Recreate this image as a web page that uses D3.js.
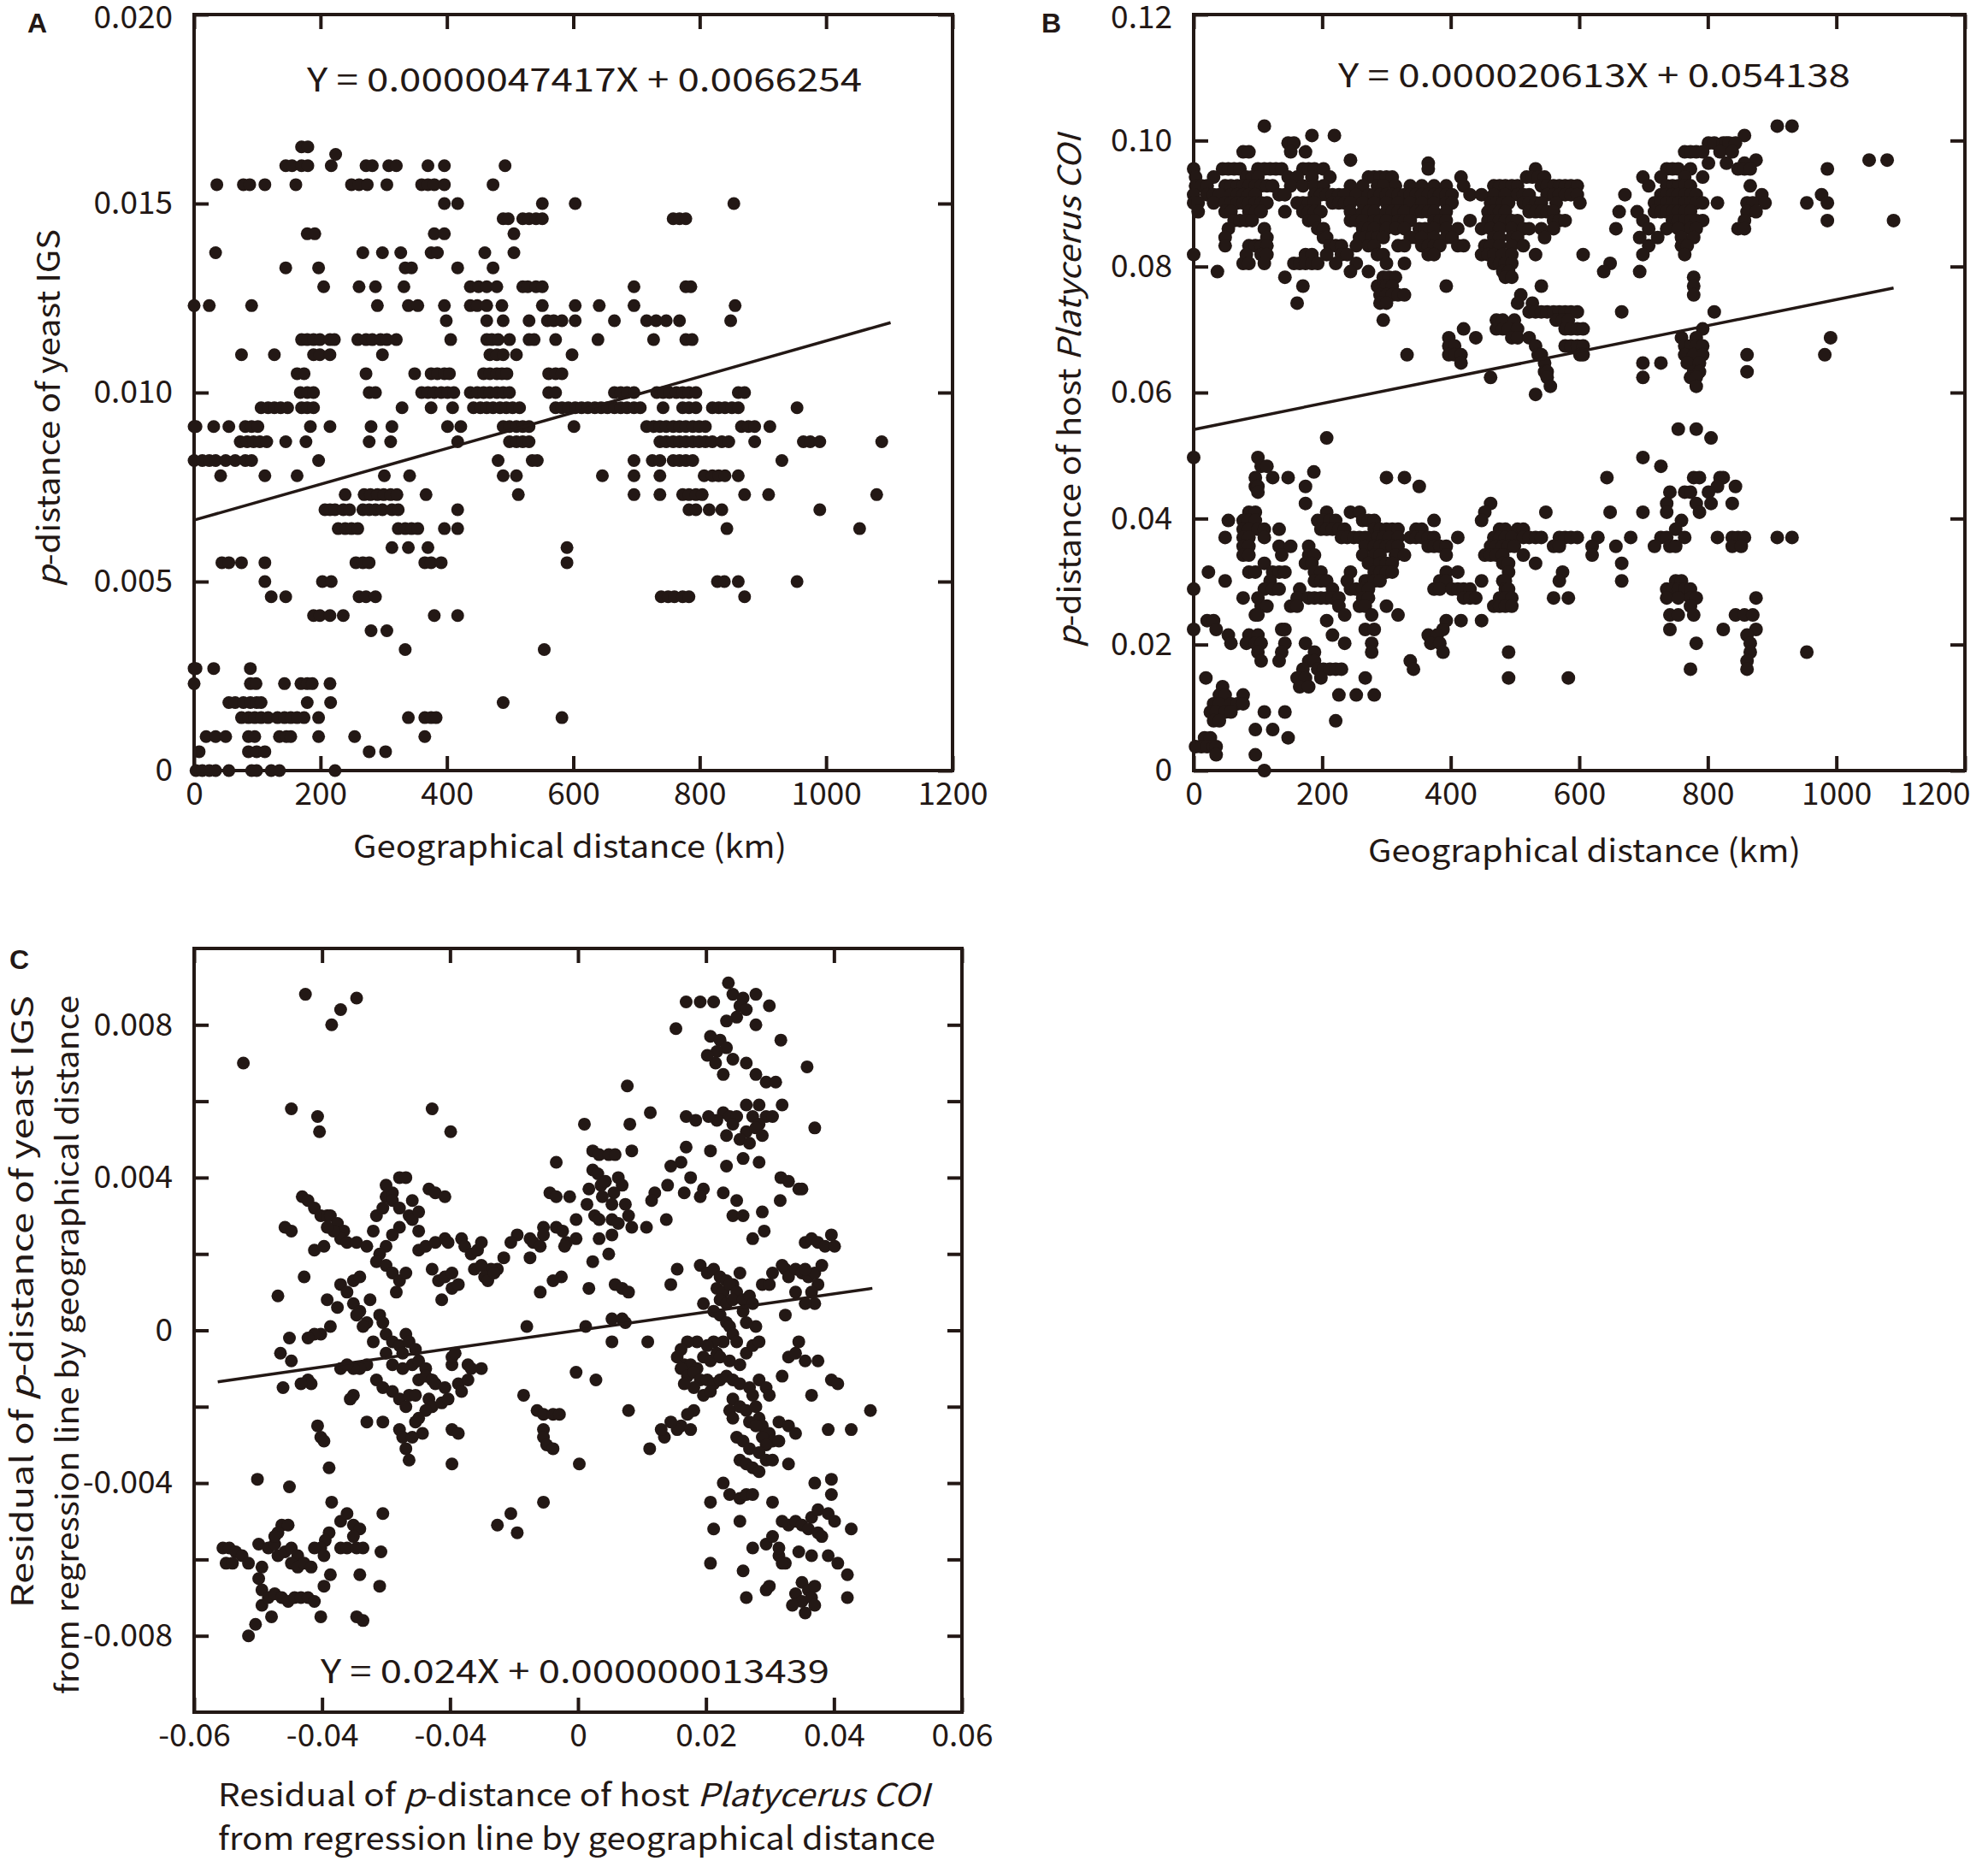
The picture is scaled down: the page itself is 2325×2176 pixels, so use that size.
<!DOCTYPE html>
<html>
<head>
<meta charset="utf-8">
<script src="https://cdn.jsdelivr.net/npm/d3@7"></script>
<style>
  body { margin: 0; background: #fff; }
</style>
</head>
<body>
<div class="chart"></div>
<script>
var width = 2325;
var height = 2176;
var ink = "#231815";
var font = "'Noto Sans CJK JP', 'Noto Sans', sans-serif";

// A: p-distance of yeast IGS vs geographical distance, rows of [p-distance, [km...]]
var yeastRows = [
  [0.0165, [170, 180]],
  [0.0163, [224]],
  [0.0160, [145, 155, 170, 180, 217, 272, 282, 308, 320, 370, 396, 492]],
  [0.0155, [36, 78, 88, 112, 161, 249, 261, 274, 305, 360, 370, 380, 396, 473]],
  [0.0150, [396, 417, 551, 603, 854]],
  [0.0146, [489, 497, 520, 530, 541, 551, 758, 768, 778]],
  [0.0142, [179, 191, 380, 396, 506]],
  [0.0137, [34, 267, 298, 327, 375, 385, 460, 506]],
  [0.0133, [145, 197, 334, 344, 417, 473]],
  [0.0128, [205, 261, 287, 332, 437, 450, 463, 479, 520, 528, 541, 551, 696, 778, 786]],
  [0.0123, [0, 24, 91, 290, 339, 354, 396, 437, 448, 463, 487, 551, 603, 641, 696, 856]],
  [0.0119, [399, 463, 489, 530, 559, 569, 582, 603, 665, 716, 731, 747, 768, 849]],
  [0.0114, [170, 179, 189, 199, 215, 222, 259, 272, 282, 295, 305, 320, 406, 463, 471, 481, 499, 530, 538, 572, 639, 727, 778, 788]],
  [0.0110, [75, 127, 189, 199, 215, 298, 468, 479, 489, 510, 598]],
  [0.0105, [163, 174, 272, 349, 375, 385, 396, 404, 458, 468, 479, 487, 495, 561, 572, 582]],
  [0.0100, [168, 179, 189, 277, 287, 360, 370, 380, 391, 401, 411, 437, 448, 458, 468, 479, 489, 499, 561, 572, 665, 675, 685, 696, 732, 742, 752, 763, 773, 783, 794, 861, 871]],
  [0.0096, [106, 117, 127, 137, 148, 170, 179, 189, 329, 375, 409, 442, 453, 463, 473, 484, 494, 504, 515, 572, 582, 592, 603, 613, 623, 634, 644, 654, 665, 675, 685, 696, 706, 742, 773, 783, 794, 820, 830, 840, 851, 861, 954]],
  [0.0091, [0, 3, 31, 55, 81, 91, 101, 184, 215, 280, 313, 401, 422, 489, 499, 510, 520, 530, 601, 716, 727, 737, 747, 758, 768, 778, 789, 799, 809, 866, 877, 887, 911]],
  [0.0087, [73, 84, 94, 104, 115, 145, 177, 277, 311, 417, 499, 510, 520, 530, 737, 747, 758, 768, 778, 789, 799, 809, 820, 835, 846, 887, 964, 975, 990, 1088]],
  [0.0082, [0, 13, 24, 34, 50, 65, 81, 91, 197, 481, 535, 543, 696, 725, 737, 758, 768, 778, 789, 930]],
  [0.0078, [42, 112, 163, 301, 341, 489, 510, 646, 696, 737, 807, 820, 830, 840, 861]],
  [0.0073, [239, 269, 279, 290, 300, 311, 321, 367, 513, 696, 737, 773, 783, 794, 804, 871, 909, 1080]],
  [0.0069, [207, 215, 223, 236, 246, 267, 277, 287, 298, 313, 323, 417, 783, 794, 815, 835, 990]],
  [0.0064, [228, 239, 249, 259, 323, 334, 344, 354, 396, 417, 843, 1053]],
  [0.0059, [313, 339, 370, 590]],
  [0.0055, [44, 55, 75, 112, 256, 267, 277, 365, 375, 391, 590]],
  [0.0050, [112, 203, 217, 828, 839, 861, 954]],
  [0.0046, [122, 145, 261, 272, 287, 739, 750, 760, 773, 783, 871]],
  [0.0041, [189, 199, 215, 236, 380, 417]],
  [0.0037, [280, 305]],
  [0.0032, [334, 554]],
  [0.0027, [0, 3, 31, 89]],
  [0.0023, [0, 89, 98, 143, 169, 179, 187, 215]],
  [0.0018, [55, 65, 78, 89, 99, 106, 179, 216, 489]],
  [0.0014, [75, 86, 96, 106, 117, 132, 143, 153, 163, 174, 197, 339, 365, 375, 383, 582]],
  [0.0009, [19, 34, 50, 86, 96, 135, 146, 153, 197, 254, 365]],
  [0.0005, [8, 86, 99, 112, 277, 303]],
  [0.0000, [3, 13, 24, 34, 55, 91, 99, 122, 135, 223]]
];

// B: p-distance of host COI vs geographical distance
var hostRows = [
  [0.1023, [110, 908, 931]],
  [0.1008, [184, 219, 857]],
  [0.0996, [147, 156, 801, 810, 824, 829, 833, 843]],
  [0.0982, [77, 86, 151, 174, 764, 773, 782, 792, 819, 838]],
  [0.0969, [244, 875, 1051, 1079]],
  [0.0964, [365, 801, 829, 857]],
  [0.0955, [0, 45, 54, 63, 72, 100, 110, 119, 128, 137, 170, 179, 188, 202, 365, 532, 736, 745, 754, 773, 847, 857, 866, 986]],
  [0.0942, [3, 31, 82, 91, 100, 147, 161, 184, 212, 272, 281, 290, 300, 309, 416, 518, 527, 536, 546, 699, 727, 764, 792]],
  [0.0928, [3, 12, 21, 49, 58, 68, 77, 86, 96, 105, 114, 123, 151, 170, 188, 202, 244, 263, 286, 295, 314, 337, 355, 374, 393, 420, 467, 476, 485, 495, 504, 541, 550, 560, 569, 578, 587, 597, 708, 736, 745, 754, 764, 773, 866]],
  [0.0914, [0, 21, 31, 40, 58, 68, 77, 86, 96, 133, 142, 188, 198, 207, 216, 226, 235, 253, 272, 281, 290, 300, 309, 318, 328, 337, 346, 355, 365, 374, 383, 393, 402, 430, 448, 467, 485, 504, 513, 522, 550, 560, 569, 578, 587, 597, 671, 727, 736, 745, 754, 764, 773, 782, 884, 977]],
  [0.0901, [0, 7, 31, 49, 58, 68, 77, 86, 96, 105, 114, 161, 170, 179, 188, 216, 226, 235, 244, 263, 281, 300, 318, 337, 355, 374, 393, 402, 462, 471, 481, 490, 513, 522, 532, 541, 564, 601, 717, 727, 736, 745, 754, 764, 773, 782, 792, 815, 861, 870, 889, 954, 986]],
  [0.0887, [7, 49, 58, 86, 96, 105, 142, 170, 179, 188, 198, 244, 263, 272, 281, 300, 309, 318, 328, 346, 355, 365, 374, 393, 458, 467, 476, 485, 522, 532, 541, 550, 560, 662, 690, 717, 727, 736, 745, 754, 764, 773, 861, 875]],
  [0.0873, [63, 72, 82, 91, 179, 188, 244, 253, 263, 281, 290, 300, 318, 328, 337, 374, 383, 393, 430, 458, 467, 476, 485, 495, 504, 560, 569, 578, 699, 745, 754, 764, 773, 782, 792, 857, 986, 1089]],
  [0.0860, [54, 110, 193, 202, 263, 272, 281, 300, 314, 328, 351, 360, 374, 393, 411, 448, 462, 476, 495, 513, 522, 541, 560, 657, 708, 736, 754, 773, 782, 847, 857]],
  [0.0846, [49, 114, 202, 207, 258, 267, 277, 286, 295, 337, 346, 355, 374, 393, 402, 467, 476, 495, 504, 546, 694, 722, 759, 778]],
  [0.0833, [49, 86, 96, 105, 114, 212, 221, 230, 253, 272, 281, 318, 328, 355, 365, 374, 383, 411, 420, 453, 462, 476, 495, 513, 708, 759, 768]],
  [0.0819, [0, 82, 105, 114, 174, 184, 207, 230, 239, 286, 295, 365, 374, 448, 458, 467, 481, 495, 532, 606, 699, 764]],
  [0.0805, [77, 86, 110, 156, 165, 174, 184, 193, 221, 253, 300, 328, 467, 476, 485, 495, 648]],
  [0.0792, [37, 244, 272, 481, 490, 638, 694]],
  [0.0783, [142, 295, 304, 314, 485, 495, 778]],
  [0.0769, [170, 286, 295, 300, 309, 393, 541, 778]],
  [0.0755, [290, 300, 309, 318, 328, 509, 778]],
  [0.0742, [161, 290, 300, 504, 527]],
  [0.0728, [522, 532, 541, 550, 560, 569, 578, 587, 597, 666, 810]],
  [0.0715, [295, 471, 481, 499, 564, 574, 583]],
  [0.0701, [420, 471, 481, 490, 504, 578, 587, 597, 606, 792]],
  [0.0687, [397, 439, 495, 504, 522, 759, 782, 991]],
  [0.0674, [397, 406, 532, 578, 587, 597, 606, 764, 773, 782, 792]],
  [0.0660, [332, 397, 406, 416, 536, 541, 601, 606, 764, 778, 792, 861, 982]],
  [0.0647, [416, 546, 699, 727, 768, 787]],
  [0.0633, [546, 550, 778, 787, 861]],
  [0.0624, [462, 550, 699, 773, 782]],
  [0.0610, [555, 782]],
  [0.0597, [532]],
  [0.0542, [754, 782]],
  [0.0528, [207, 805]],
  [0.0497, [0, 100, 699]],
  [0.0483, [105, 114, 727]],
  [0.0474, [187]],
  [0.0465, [96, 123, 147, 300, 328, 643, 778, 787, 819, 824]],
  [0.0451, [96, 100, 174, 351, 815, 843]],
  [0.0442, [100, 741, 764, 773, 801]],
  [0.0424, [174, 462, 736, 782, 805, 838]],
  [0.0410, [86, 96, 207, 244, 258, 453, 548, 648, 699, 736, 787]],
  [0.0397, [54, 77, 86, 96, 193, 202, 212, 221, 263, 272, 281, 374, 448, 759]],
  [0.0383, [77, 86, 100, 110, 133, 198, 207, 216, 226, 235, 281, 290, 300, 309, 318, 346, 355, 476, 485, 504, 513, 750]],
  [0.0370, [49, 77, 86, 110, 230, 239, 249, 258, 267, 286, 295, 304, 318, 337, 346, 355, 365, 374, 411, 467, 476, 485, 495, 513, 522, 532, 541, 569, 578, 587, 597, 629, 680, 727, 736, 764, 815, 838, 847, 857, 908, 931]],
  [0.0356, [77, 86, 133, 151, 179, 267, 281, 290, 300, 309, 318, 365, 374, 383, 393, 462, 471, 481, 490, 499, 560, 569, 620, 657, 717, 741, 750, 838, 852]],
  [0.0342, [77, 86, 137, 179, 188, 263, 281, 290, 314, 328, 393, 453, 462, 471, 481, 513, 620]],
  [0.0329, [110, 174, 184, 272, 290, 300, 309, 481, 490, 532, 666]],
  [0.0315, [23, 86, 96, 123, 133, 142, 188, 198, 244, 281, 290, 300, 309, 393, 411, 490, 574]],
  [0.0301, [49, 119, 188, 198, 207, 239, 267, 272, 281, 290, 383, 393, 448, 481, 485, 569, 666, 750, 759]],
  [0.0288, [0, 110, 123, 133, 165, 216, 244, 253, 263, 272, 374, 383, 402, 411, 420, 430, 485, 490, 736, 745, 754, 764, 773]],
  [0.0274, [77, 100, 161, 179, 188, 198, 207, 216, 226, 263, 272, 420, 430, 439, 476, 485, 495, 560, 583, 736, 754, 773, 782, 875]],
  [0.0261, [105, 114, 151, 161, 226, 258, 267, 300, 467, 476, 485, 495, 773]],
  [0.0247, [96, 100, 235, 277, 318, 741, 754, 778, 843, 857, 870]],
  [0.0238, [21, 31, 207, 393, 416, 448]],
  [0.0224, [0, 35, 137, 142, 267, 281, 388, 741, 824, 875]],
  [0.0215, [54, 86, 100, 216, 365, 379, 861]],
  [0.0202, [58, 82, 96, 105, 142, 174, 235, 277, 369, 383, 782, 866]],
  [0.0188, [100, 137, 188, 277, 388, 490, 866, 954]],
  [0.0174, [105, 133, 179, 188, 337, 861]],
  [0.0161, [170, 193, 202, 212, 221, 230, 342, 773, 861]],
  [0.0147, [19, 161, 174, 198, 267, 490, 583]],
  [0.0133, [45, 165, 179]],
  [0.0120, [40, 49, 77, 226, 253, 281]],
  [0.0106, [31, 40, 58, 68, 77]],
  [0.0093, [26, 35, 49, 58, 110, 142]],
  [0.0079, [31, 40, 221]],
  [0.0065, [96, 123]],
  [0.0052, [17, 26, 147]],
  [0.0038, [3, 12, 21, 31, 35]],
  [0.0025, [35, 96]],
  [0.0000, [110]]
];

// C: residuals, [host COI residual, yeast IGS residual]
var residuals = [
  [-0.0426, 0.0088], [-0.0346, 0.0087], [-0.0371, 0.0084], [-0.0385, 0.0080], [-0.0523, 0.0070],
  [-0.0448, 0.0058], [-0.0407, 0.0056], [-0.0404, 0.0052], [-0.0228, 0.0058], [-0.0199, 0.0052],
  [0.0235, 0.0091], [0.0169, 0.0086], [0.0191, 0.0086], [0.0212, 0.0086], [0.0242, 0.0088],
  [0.0258, 0.0087], [0.0278, 0.0088], [0.0253, 0.0085], [0.0248, 0.0082], [0.0232, 0.0081],
  [0.0263, 0.0084], [0.0299, 0.0085], [0.0153, 0.0079], [0.0278, 0.0080], [0.0207, 0.0077],
  [0.0222, 0.0076], [0.0232, 0.0074], [0.0217, 0.0073], [0.0215, 0.0070], [0.0242, 0.0071],
  [0.0263, 0.0070], [0.0227, 0.0067], [0.0278, 0.0067], [0.0294, 0.0065], [0.0309, 0.0065],
  [0.0317, 0.0076], [0.0358, 0.0069], [0.0202, 0.0072], [0.0077, 0.0064], [0.0319, 0.0059],
  [0.0263, 0.0059], [0.0283, 0.0059], [0.0273, 0.0056], [0.0294, 0.0056], [0.0227, 0.0057],
  [0.0237, 0.0056], [0.0248, 0.0056], [0.0217, 0.0055], [0.0242, 0.0054], [0.0283, 0.0054],
  [0.0304, 0.0056], [0.0263, 0.0052], [0.0278, 0.0053], [0.0232, 0.0051], [0.0253, 0.0050],
  [0.0268, 0.0049], [0.0288, 0.0051], [0.0370, 0.0053], [0.0204, 0.0056], [0.0169, 0.0056],
  [0.0184, 0.0055], [0.0113, 0.0057], [0.0010, 0.0054], [0.0081, 0.0054], [0.0169, 0.0048],
  [0.0207, 0.0047], [0.0258, 0.0045], [0.0232, 0.0043], [0.0283, 0.0044], [0.0161, 0.0044],
  [0.0145, 0.0043], [0.0176, 0.0040], [0.0140, 0.0038], [0.0196, 0.0037], [0.0166, 0.0036],
  [0.0191, 0.0035], [0.0227, 0.0036], [0.0248, 0.0034], [0.0317, 0.0040], [0.0329, 0.0039],
  [0.0345, 0.0037], [0.0350, 0.0037], [0.0242, 0.0030], [0.0258, 0.0030], [0.0288, 0.0031],
  [0.0316, 0.0034], [0.0291, 0.0026], [0.0273, 0.0024],
  [0.0023, 0.0047], [0.0033, 0.0046], [0.0048, 0.0046], [0.0058, 0.0046], [0.0084, 0.0047],
  [-0.0034, 0.0044], [0.0023, 0.0042], [0.0031, 0.0041], [0.0036, 0.0038], [0.0043, 0.0039],
  [0.0063, 0.0040], [0.0069, 0.0038], [0.0056, 0.0036], [0.0038, 0.0035], [0.0053, 0.0033],
  [0.0074, 0.0033], [0.0079, 0.0030], [0.0017, 0.0037], [-0.0044, 0.0036], [-0.0034, 0.0035],
  [-0.0013, 0.0035], [-0.0003, 0.0029], [0.0014, 0.0033], [0.0026, 0.0030], [0.0033, 0.0029],
  [0.0053, 0.0029], [0.0063, 0.0028], [0.0084, 0.0027], [-0.0034, 0.0027], [-0.0024, 0.0026],
  [-0.0018, 0.0023], [-0.0003, 0.0024], [-0.0054, 0.0027], [-0.0054, 0.0025], [-0.0075, 0.0024],
  [-0.0070, 0.0023], [-0.0059, 0.0022], [-0.0095, 0.0025], [-0.0105, 0.0023], [-0.0116, 0.0019],
  [-0.0126, 0.0016], [-0.0136, 0.0016], [-0.0075, 0.0019], [-0.0021, 0.0022], [0.0033, 0.0024],
  [0.0053, 0.0025], [0.0048, 0.0020], [0.0107, 0.0027], [0.0120, 0.0036], [0.0138, 0.0029],
  [0.0115, 0.0034], [-0.0026, 0.0014], [-0.0039, 0.0013], [-0.0059, 0.0010], [0.0017, 0.0011],
  [0.0023, 0.0018], [0.0058, 0.0012], [0.0069, 0.0011], [0.0079, 0.0010], [0.0053, 0.0003],
  [0.0069, 0.0003], [0.0074, 0.0002], [0.0012, 0.0001], [-0.0080, 0.0001], [-0.0003, -0.0011],
  [0.0028, -0.0013], [0.0053, -0.0003], [0.0109, -0.0003], [0.0079, -0.0021], [-0.0085, -0.0017],
  [-0.0064, -0.0021], [-0.0054, -0.0022], [-0.0039, -0.0022], [-0.0029, -0.0022], [-0.0054, -0.0026],
  [-0.0054, -0.0028], [-0.0049, -0.0030], [-0.0039, -0.0031], [0.0002, -0.0035], [-0.0054, -0.0045],
  [-0.0126, -0.0051], [-0.0095, -0.0053], [-0.0105, -0.0048], [0.0135, -0.0028], [0.0112, -0.0031],
  [0.0130, -0.0026],
  [-0.0431, 0.0035], [-0.0422, 0.0034], [-0.0412, 0.0032], [-0.0402, 0.0030], [-0.0392, 0.0030],
  [-0.0458, 0.0027], [-0.0448, 0.0026], [-0.0412, 0.0021], [-0.0428, 0.0014], [-0.0469, 0.0009],
  [-0.0392, 0.0008], [-0.0387, 0.0001], [-0.0402, -0.0001], [-0.0412, -0.0001], [-0.0422, -0.0002],
  [-0.0451, -0.0002], [-0.0448, -0.0008], [-0.0465, -0.0006], [-0.0461, -0.0015], [-0.0422, -0.0013],
  [-0.0417, -0.0014], [-0.0433, -0.0014], [-0.0407, -0.0025], [-0.0402, -0.0028], [-0.0397, -0.0029],
  [-0.0389, -0.0036], [-0.0501, -0.0039], [-0.0451, -0.0041], [-0.0385, -0.0045], [-0.0389, -0.0053],
  [-0.0395, -0.0055], [-0.0402, -0.0057], [-0.0412, -0.0057], [-0.0397, -0.0059], [-0.0371, -0.0050],
  [-0.0361, -0.0048], [-0.0351, -0.0051], [-0.0341, -0.0052], [-0.0351, -0.0054], [-0.0371, -0.0057],
  [-0.0361, -0.0057], [-0.0346, -0.0057], [-0.0336, -0.0057], [-0.0341, -0.0064], [-0.0305, -0.0048],
  [-0.0308, -0.0058], [-0.0310, -0.0067], [-0.0346, -0.0075], [-0.0336, -0.0076], [-0.0402, -0.0075],
  [-0.0397, -0.0067], [-0.0387, -0.0064],
  [-0.0555, -0.0057], [-0.0545, -0.0057], [-0.0535, -0.0058], [-0.0550, -0.0061], [-0.0540, -0.0061],
  [-0.0525, -0.0059], [-0.0515, -0.0061], [-0.0499, -0.0056], [-0.0494, -0.0062], [-0.0499, -0.0065],
  [-0.0494, -0.0068], [-0.0484, -0.0057], [-0.0474, -0.0056], [-0.0469, -0.0059], [-0.0458, -0.0058],
  [-0.0448, -0.0057], [-0.0438, -0.0059], [-0.0463, -0.0051], [-0.0453, -0.0051], [-0.0448, -0.0061],
  [-0.0438, -0.0062], [-0.0428, -0.0061], [-0.0417, -0.0062], [-0.0494, -0.0072], [-0.0484, -0.0070],
  [-0.0474, -0.0069], [-0.0463, -0.0070], [-0.0453, -0.0071], [-0.0443, -0.0070], [-0.0433, -0.0070],
  [-0.0422, -0.0070], [-0.0412, -0.0071], [-0.0479, -0.0075], [-0.0504, -0.0077], [-0.0515, -0.0080],
  [-0.0469, -0.0053], [-0.0474, -0.0054],
  [-0.0387, 0.0030], [-0.0376, 0.0028], [-0.0366, 0.0026], [-0.0371, 0.0024], [-0.0361, 0.0023],
  [-0.0382, 0.0026], [-0.0392, 0.0027], [-0.0397, 0.0022], [-0.0346, 0.0023], [-0.0330, 0.0022],
  [-0.0320, 0.0026], [-0.0315, 0.0030], [-0.0305, 0.0032], [-0.0300, 0.0035], [-0.0290, 0.0036],
  [-0.0279, 0.0040], [-0.0269, 0.0040], [-0.0300, 0.0038], [-0.0290, 0.0034], [-0.0279, 0.0032],
  [-0.0264, 0.0030], [-0.0259, 0.0034], [-0.0259, 0.0029], [-0.0249, 0.0031], [-0.0233, 0.0037],
  [-0.0223, 0.0036], [-0.0208, 0.0035], [-0.0249, 0.0026], [-0.0279, 0.0027], [-0.0290, 0.0025],
  [-0.0300, 0.0022], [-0.0310, 0.0020], [-0.0315, 0.0018], [-0.0300, 0.0017], [-0.0290, 0.0015],
  [-0.0279, 0.0013], [-0.0284, 0.0010], [-0.0269, 0.0015], [-0.0249, 0.0021], [-0.0238, 0.0022],
  [-0.0223, 0.0023], [-0.0208, 0.0024], [-0.0203, 0.0023], [-0.0228, 0.0016], [-0.0218, 0.0013],
  [-0.0208, 0.0014], [-0.0197, 0.0015], [-0.0213, 0.0008], [-0.0197, 0.0011], [-0.0187, 0.0012],
  [-0.0182, 0.0024], [-0.0177, 0.0022], [-0.0167, 0.0020], [-0.0162, 0.0016], [-0.0151, 0.0017],
  [-0.0146, 0.0014], [-0.0141, 0.0013], [-0.0131, 0.0015], [-0.0157, 0.0021], [-0.0151, 0.0023],
  [-0.0371, 0.0012], [-0.0361, 0.0010], [-0.0351, 0.0007], [-0.0341, 0.0005], [-0.0346, 0.0004],
  [-0.0330, 0.0002], [-0.0336, 0.0001], [-0.0351, 0.0013], [-0.0341, 0.0014], [-0.0376, 0.0006],
  [-0.0325, 0.0008], [-0.0310, 0.0004], [-0.0305, 0.0002], [-0.0320, -0.0003], [-0.0300, -0.0001],
  [-0.0290, -0.0003], [-0.0279, -0.0004], [-0.0274, -0.0006], [-0.0269, -0.0001], [-0.0264, -0.0003],
  [-0.0254, -0.0005], [-0.0259, -0.0009], [-0.0249, -0.0008], [-0.0238, -0.0010], [-0.0274, -0.0010],
  [-0.0290, -0.0009], [-0.0300, -0.0006], [-0.0330, -0.0009], [-0.0341, -0.0010], [-0.0351, -0.0010],
  [-0.0371, -0.0010], [-0.0361, -0.0009], [-0.0315, -0.0013], [-0.0305, -0.0015], [-0.0290, -0.0016],
  [-0.0279, -0.0018], [-0.0269, -0.0020], [-0.0264, -0.0017], [-0.0254, -0.0017], [-0.0249, -0.0013],
  [-0.0238, -0.0012], [-0.0228, -0.0013], [-0.0223, -0.0014], [-0.0208, -0.0015], [-0.0197, -0.0009],
  [-0.0197, -0.0007], [-0.0192, -0.0006], [-0.0172, -0.0009], [-0.0167, -0.0010], [-0.0151, -0.0010],
  [-0.0187, -0.0014], [-0.0182, -0.0016], [-0.0172, -0.0013], [-0.0233, -0.0018], [-0.0228, -0.0020],
  [-0.0213, -0.0019], [-0.0203, -0.0018], [-0.0238, -0.0021], [-0.0249, -0.0023], [-0.0254, -0.0024],
  [-0.0305, -0.0024], [-0.0330, -0.0024], [-0.0351, -0.0017], [-0.0356, -0.0018], [-0.0279, -0.0026],
  [-0.0274, -0.0028], [-0.0269, -0.0031], [-0.0264, -0.0034], [-0.0243, -0.0027], [-0.0197, -0.0026],
  [-0.0187, -0.0027], [-0.0197, -0.0035], [-0.0259, -0.0028],
  [0.0155, 0.0016], [0.0145, 0.0012], [0.0191, 0.0017], [0.0202, 0.0015], [0.0212, 0.0016],
  [0.0222, 0.0014], [0.0232, 0.0013], [0.0242, 0.0012], [0.0253, 0.0015], [0.0217, 0.0011],
  [0.0227, 0.0010], [0.0237, 0.0012], [0.0248, 0.0010], [0.0222, 0.0008], [0.0232, 0.0007],
  [0.0242, 0.0008], [0.0258, 0.0008], [0.0268, 0.0009], [0.0196, 0.0007], [0.0212, 0.0005],
  [0.0222, 0.0004], [0.0232, 0.0002], [0.0237, 0.0001], [0.0242, -0.0001], [0.0248, -0.0003],
  [0.0227, -0.0003], [0.0212, -0.0003], [0.0202, -0.0004], [0.0186, -0.0003], [0.0171, -0.0003],
  [0.0161, -0.0005], [0.0155, -0.0007], [0.0166, -0.0009], [0.0176, -0.0009], [0.0186, -0.0010],
  [0.0196, -0.0007], [0.0207, -0.0008], [0.0217, -0.0006], [0.0222, -0.0007], [0.0237, -0.0008],
  [0.0253, -0.0009], [0.0263, -0.0006], [0.0273, -0.0004], [0.0283, -0.0003], [0.0278, 0.0001],
  [0.0263, 0.0002], [0.0258, 0.0005], [0.0273, 0.0007], [0.0288, 0.0012], [0.0304, 0.0015],
  [0.0299, 0.0012], [0.0324, 0.0016], [0.0329, 0.0014], [0.0340, 0.0016], [0.0350, 0.0015],
  [0.0360, 0.0014], [0.0370, 0.0015], [0.0375, 0.0012], [0.0365, 0.0010], [0.0370, 0.0007],
  [0.0355, 0.0007], [0.0319, 0.0017], [0.0340, 0.0010], [0.0324, 0.0004],
  [0.0355, 0.0023], [0.0365, 0.0024], [0.0375, 0.0023], [0.0386, 0.0022], [0.0396, 0.0025],
  [0.0401, 0.0022], [0.0355, 0.0016], [0.0381, 0.0017],
  [0.0161, -0.0010], [0.0171, -0.0012], [0.0181, -0.0011], [0.0191, -0.0013], [0.0202, -0.0013],
  [0.0212, -0.0014], [0.0222, -0.0013], [0.0181, -0.0015], [0.0196, -0.0017], [0.0207, -0.0016],
  [0.0166, -0.0014], [0.0232, -0.0012], [0.0242, -0.0013], [0.0253, -0.0014], [0.0268, -0.0015],
  [0.0273, -0.0017], [0.0283, -0.0013], [0.0294, -0.0015], [0.0299, -0.0017], [0.0242, -0.0018],
  [0.0253, -0.0020], [0.0263, -0.0021], [0.0278, -0.0020], [0.0283, -0.0023], [0.0288, -0.0025],
  [0.0299, -0.0027], [0.0304, -0.0029], [0.0237, -0.0021], [0.0242, -0.0023], [0.0268, -0.0024],
  [0.0278, -0.0025], [0.0288, -0.0028], [0.0294, -0.0030], [0.0248, -0.0028], [0.0258, -0.0029],
  [0.0268, -0.0031], [0.0283, -0.0032], [0.0294, -0.0034], [0.0253, -0.0034], [0.0263, -0.0035],
  [0.0273, -0.0036], [0.0283, -0.0037], [0.0304, -0.0034], [0.0329, -0.0035], [0.0314, -0.0024],
  [0.0329, -0.0025], [0.0340, -0.0027], [0.0314, -0.0029], [0.0319, -0.0012], [0.0329, -0.0007],
  [0.0340, -0.0006], [0.0345, -0.0003], [0.0355, -0.0008], [0.0375, -0.0008], [0.0396, -0.0013],
  [0.0406, -0.0014], [0.0391, -0.0026], [0.0427, -0.0026], [0.0457, -0.0021], [0.0365, -0.0017],
  [0.0181, -0.0021], [0.0171, -0.0022], [0.0161, -0.0025], [0.0155, -0.0026], [0.0145, -0.0024],
  [0.0176, -0.0026],
  [0.0227, -0.0040], [0.0237, -0.0043], [0.0253, -0.0044], [0.0263, -0.0043], [0.0273, -0.0043],
  [0.0207, -0.0045], [0.0212, -0.0052], [0.0207, -0.0061], [0.0253, -0.0050], [0.0273, -0.0057],
  [0.0294, -0.0056], [0.0304, -0.0045], [0.0263, -0.0070], [0.0294, -0.0068], [0.0299, -0.0067],
  [0.0314, -0.0059], [0.0324, -0.0061], [0.0329, -0.0051], [0.0340, -0.0050], [0.0350, -0.0051],
  [0.0360, -0.0052], [0.0375, -0.0053], [0.0365, -0.0049], [0.0375, -0.0047], [0.0391, -0.0048],
  [0.0370, -0.0040], [0.0396, -0.0039], [0.0396, -0.0043], [0.0381, -0.0054], [0.0365, -0.0059],
  [0.0345, -0.0058], [0.0391, -0.0059], [0.0406, -0.0061], [0.0421, -0.0064], [0.0421, -0.0070],
  [0.0427, -0.0052], [0.0350, -0.0066], [0.0360, -0.0068], [0.0370, -0.0067], [0.0340, -0.0069],
  [0.0350, -0.0071], [0.0365, -0.0070], [0.0355, -0.0074], [0.0370, -0.0072], [0.0335, -0.0072],
  [0.0319, -0.0050], [0.0304, -0.0054], [0.0314, -0.0057], [0.0258, -0.0063], [0.0319, -0.0061],
  [0.0401, -0.0050]
];

// regression line end points
var lineA = [[0, 0.0066254], [1102, 0.01185]];
var lineB = [[0, 0.054138], [1089, 0.07659]];
var lineC = [[-0.0563, -0.00135], [0.046, 0.0011]];

// ticks
var kmTicks = [0, 200, 400, 600, 800, 1000, 1200];
var kmLabels = ["0", "200", "400", "600", "800", "1000", "1200"];
var yeastTicks = [0, 0.005, 0.01, 0.015, 0.02];
var yeastLabels = ["0", "0.005", "0.010", "0.015", "0.020"];
var hostTicks = [0, 0.02, 0.04, 0.06, 0.08, 0.1, 0.12];
var hostLabels = ["0", "0.02", "0.04", "0.06", "0.08", "0.10", "0.12"];
var resXTicks = [-0.06, -0.04, -0.02, 0, 0.02, 0.04, 0.06];
var resXLabels = ["-0.06", "-0.04", "-0.04", "0", "0.02", "0.04", "0.06"];
var resYTicks = [-0.008, -0.006, -0.004, -0.002, 0, 0.002, 0.004, 0.006, 0.008];
var resYLabels = ["-0.008", "", "-0.004", "", "0", "", "0.004", "", "0.008"];

function flatRows(rows) {
  var out = [];
  rows.forEach(function (r) {
    r[1].forEach(function (km) {
      out.push([km, r[0]]);
    });
  });
  return out;
}

var svg = d3
  .select(".chart")
  .append("svg")
  .attr("width", width)
  .attr("height", height)
  .style("background", "#fff");

function styleAxis(sel) {
  sel.select(".domain").remove();
  sel.selectAll(".tick line").attr("stroke", ink).attr("stroke-width", 4);
  sel
    .selectAll(".tick text")
    .attr("fill", ink)
    .style("font-family", font)
    .style("font-size", "37px");
}

function drawPanel(p) {
  var x = d3.scaleLinear().domain(p.xDomain).range([p.left, p.right]);
  var y = d3.scaleLinear().domain(p.yDomain).range([p.bottom, p.top]);
  var g = svg.append("g");

  g.selectAll("circle")
    .data(p.points)
    .enter()
    .append("circle")
    .attr("cx", (d) => x(d[0]))
    .attr("cy", (d) => y(d[1]))
    .attr("r", p.r)
    .attr("fill", ink);

  g.append("line")
    .attr("x1", x(p.line[0][0]))
    .attr("y1", y(p.line[0][1]))
    .attr("x2", x(p.line[1][0]))
    .attr("y2", y(p.line[1][1]))
    .attr("stroke", ink)
    .attr("stroke-width", 3.5);

  g.append("rect")
    .attr("x", p.left)
    .attr("y", p.top)
    .attr("width", p.right - p.left)
    .attr("height", p.bottom - p.top)
    .attr("fill", "none")
    .attr("stroke", ink)
    .attr("stroke-width", 4);

  var yl = g.append("g")
    .attr("transform", "translate(" + p.left + ",0)")
    .call(
      d3.axisLeft(y).tickValues(p.yTicks).tickSize(-17).tickPadding(25)
        .tickFormat((d, i) => p.yLabels[i])
    )
    .call(styleAxis);
  // top label sits against the page edge
  yl.selectAll(".tick text").filter((d) => d === p.yDomain[1] || d === p.yTicks[p.yTicks.length - 1])
    .attr("y", p.top < 40 ? 4 : 0);
  g.append("g")
    .attr("transform", "translate(" + p.right + ",0)")
    .call(d3.axisRight(y).tickValues(p.yTicks).tickSize(-17).tickFormat(""))
    .call(styleAxis);
  g.append("g")
    .attr("transform", "translate(0," + p.top + ")")
    .call(d3.axisTop(x).tickValues(p.xTicks).tickSize(-17).tickFormat(""))
    .call(styleAxis);
  var xb = g.append("g")
    .attr("transform", "translate(0," + p.bottom + ")")
    .call(
      d3.axisBottom(x).tickValues(p.xTicks).tickSize(-17).tickPadding(14)
        .tickFormat((d, i) => p.xLabels[i])
    )
    .call(styleAxis);
  return { x: x, y: y, g: g, xb: xb };
}

var A = drawPanel({
  xDomain: [0, 1200], yDomain: [0, 0.02],
  left: 227, right: 1114, top: 17, bottom: 901, r: 7.5,
  xTicks: kmTicks, xLabels: kmLabels, yTicks: yeastTicks, yLabels: yeastLabels,
  points: flatRows(yeastRows), line: lineA
});

var B = drawPanel({
  xDomain: [0, 1200], yDomain: [0, 0.12],
  left: 1396, right: 2298, top: 17, bottom: 901, r: 8,
  xTicks: kmTicks, xLabels: kmLabels, yTicks: hostTicks, yLabels: hostLabels,
  points: flatRows(hostRows), line: lineB
});
// last label sits against the page edge
B.xb.selectAll(".tick text").filter((d) => d === 1200).attr("text-anchor", "end").attr("x", 6);

var C = drawPanel({
  xDomain: [-0.06, 0.06], yDomain: [-0.01, 0.01],
  left: 227, right: 1125, top: 1109, bottom: 2002, r: 7.5,
  xTicks: resXTicks, xLabels: resXLabels, yTicks: resYTicks, yLabels: resYLabels,
  points: residuals, line: lineC
});

// text
function addText(x, y, parts, opts) {
  opts = opts || {};
  var t = svg
    .append("text")
    .attr("x", x)
    .attr("y", y)
    .attr("fill", ink)
    .style("font-family", opts.family || font)
    .style("font-size", (opts.size || 37) + "px")
    .attr("text-anchor", opts.anchor || "start");
  if (opts.weight) t.style("font-weight", opts.weight);
  if (opts.rotate) t.attr("transform", "rotate(-90," + x + "," + y + ")");
  if (opts.length) t.attr("textLength", opts.length).attr("lengthAdjust", "spacingAndGlyphs");
  parts.forEach(function (p) {
    var s = t.append("tspan").text(p[0]);
    if (p[1]) s.style("font-style", "italic");
  });
  return t;
}

var letterFont = "'Liberation Sans', Arial, sans-serif";
addText(32, 38, [["A"]], { size: 32, weight: "bold", family: letterFont });
addText(1218, 38, [["B"]], { size: 32, weight: "bold", family: letterFont });
addText(11, 1133, [["C"]], { size: 32, weight: "bold", family: letterFont });

addText(359, 107, [["Y  = 0.0000047417X + 0.0066254"]], { size: 38, length: 649 });
addText(1565, 102, [["Y  = 0.000020613X + 0.054138"]], { size: 38, length: 599 });
addText(375, 1968, [["Y  = 0.024X + 0.000000013439"]], { size: 38, length: 595 });

addText(413, 1003, [["Geographical distance (km)"]], { size: 37, length: 507 });
addText(1600, 1008, [["Geographical distance (km)"]], { size: 37, length: 506 });

addText(70, 686, [["p", true], ["-distance of yeast IGS"]], { size: 37, rotate: true, length: 418 });
addText(1264, 757, [["p", true], ["-distance of host "], ["Platycerus COI", true]], { size: 37, rotate: true, length: 600 });

addText(39, 1880, [["Residual of "], ["p", true], ["-distance of yeast IGS"]], { size: 36, rotate: true, length: 716 });
addText(92, 1981, [["from regression line by geographical distance"]], { size: 36, rotate: true, length: 817 });

addText(255, 2112, [["Residual of "], ["p", true], ["-distance of host "], ["Platycerus COI", true]], { size: 37, length: 832 });
addText(255, 2163, [["from regression line by geographical distance"]], { size: 37, length: 839 });
</script>
</body>
</html>
